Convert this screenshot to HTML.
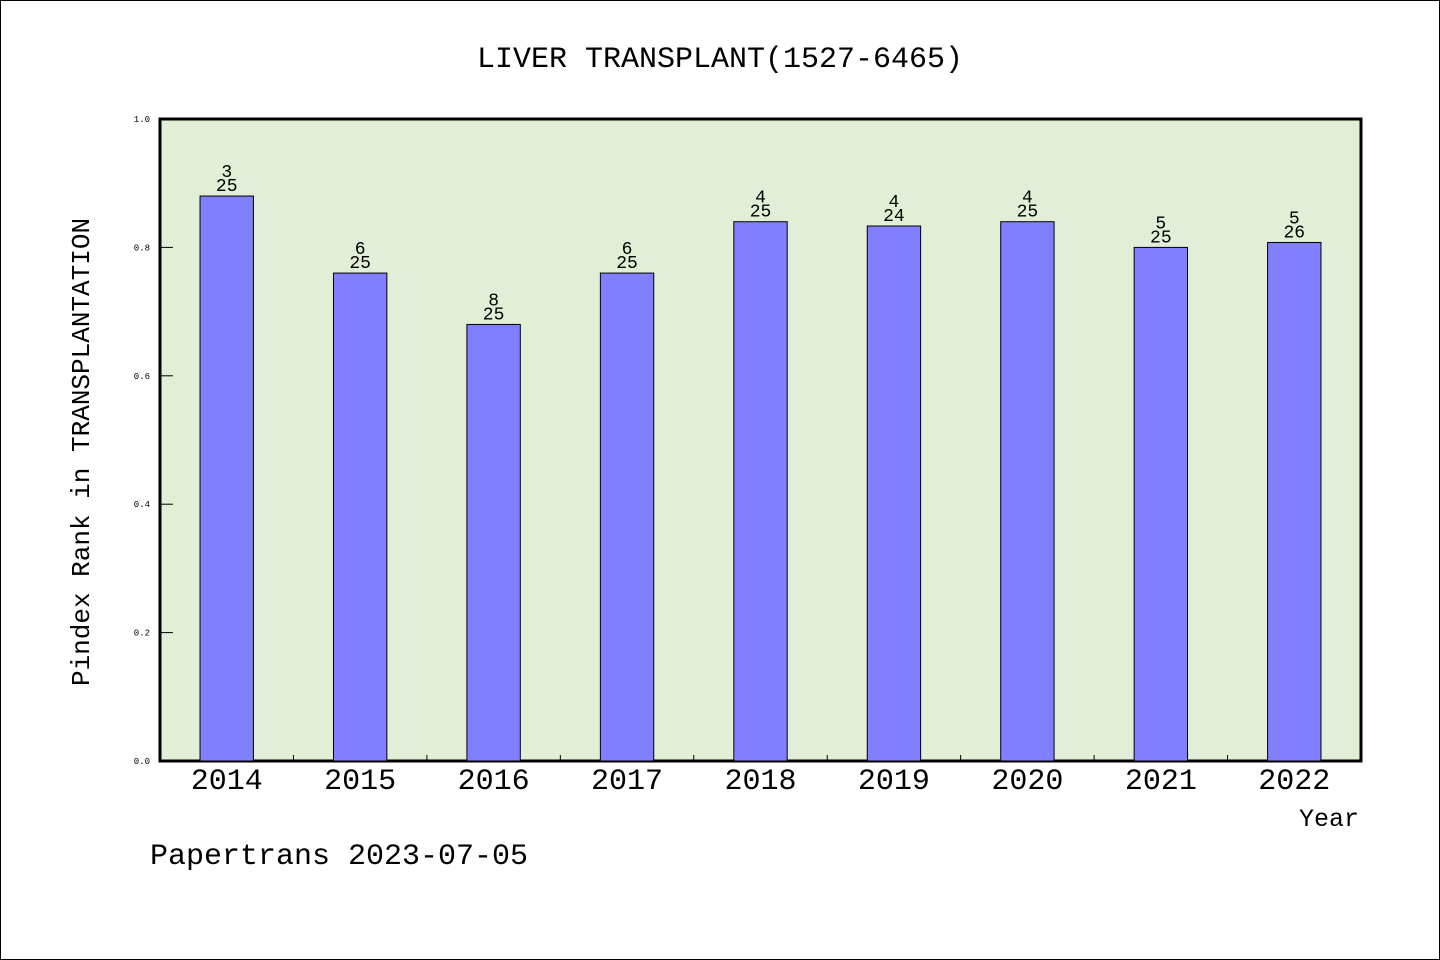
<!DOCTYPE html>
<html><head><meta charset="utf-8"><style>
body{margin:0;background:#fff}
svg{display:block}
text{font-family:"Liberation Mono","WenQuanYi Zen Hei",monospace;fill:#000}
</style></head><body>
<svg id="chart" width="1440" height="960">
<rect x="0.5" y="0.5" width="1439" height="959" fill="#fff" stroke="#000"/>
<text x="720" y="67" font-size="30" text-anchor="middle">LIVER TRANSPLANT(1527-6465)</text>
<rect x="160" y="119" width="1201" height="642" fill="#e2efd6" stroke="#000" stroke-width="3"/>
<g id="marks"></g>
<text x="0" y="0" font-size="26" text-anchor="middle" transform="translate(89,452) rotate(-90)">Pindex Rank in TRANSPLANTATION</text>
<text x="1359" y="826" font-size="25" text-anchor="end">Year</text>
<text x="150" y="864" font-size="30">Papertrans 2023-07-05</text>
</svg>
<script>
const years=["2014","2015","2016","2017","2018","2019","2020","2021","2022"];
const ranks=[3,6,8,6,4,4,4,5,5];
const totals=[25,25,25,25,25,24,25,25,26];
const yTicks=["0.0","0.2","0.4","0.6","0.8","1.0"];
const ns="http://www.w3.org/2000/svg";
const L=160,R=1361,T=119,B=761;
const band=(R-L)/years.length;
const xc=i=>L+band*(i+0.5);
const y=v=>B-(B-T)*v;
const g=document.getElementById('marks');
function mk(t,a){const e=document.createElementNS(ns,t);for(const k in a)e.setAttribute(k,a[k]);g.appendChild(e);return e;}
yTicks.forEach(t=>{const v=parseFloat(t);
 const l=mk('line',{x1:L,x2:L+13,y1:y(v),y2:y(v),stroke:'#000'});
 
 
 const tx=mk('text',{x:150,y:y(v)+3,'font-size':9,'text-anchor':'end'});tx.textContent=t;
 
 
});
for(let i=1;i<years.length;i++){
 const l=mk('line',{x1:L+band*i,x2:L+band*i,y1:B,y2:B-6,stroke:'#000'});
 
 
}
years.forEach((yr,i)=>{
 const v=1-ranks[i]/totals[i];const w=band*0.4;
 const r=mk('rect',{x:xc(i)-w/2,y:y(v),width:w,height:B-y(v),fill:'#8080ff',stroke:'#000','stroke-width':1});
 
 
 const t1=mk('text',{x:xc(i),y:y(v)-19,'font-size':18,'text-anchor':'middle'});t1.textContent=ranks[i];
 
 
 const t2=mk('text',{x:xc(i),y:y(v)-5,'font-size':18,'text-anchor':'middle'});t2.textContent=totals[i];
 
 
 const xl=mk('text',{x:xc(i),y:789,'font-size':30,'text-anchor':'middle'});xl.textContent=yr;
 
 
});
</script>
</body></html>
